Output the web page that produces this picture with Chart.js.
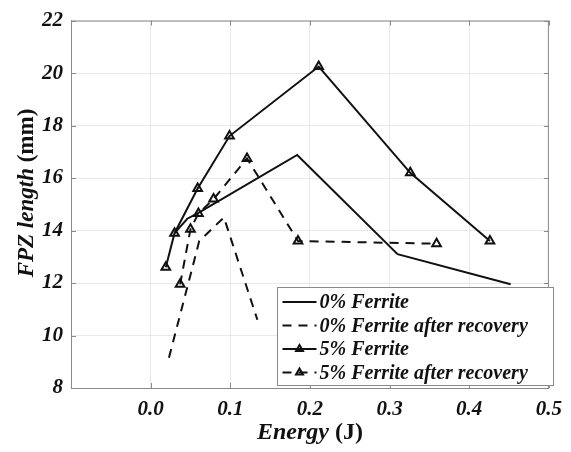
<!DOCTYPE html>
<html>
<head>
<meta charset="utf-8">
<script src="https://cdn.jsdelivr.net/npm/chart.js@4.4.1/dist/chart.umd.min.js"></script>
<style>
  html, body { margin: 0; padding: 0; background: #ffffff; }
</style>
</head>
<body>
<canvas id="fpzChart" width="571" height="452"></canvas>
<script>
// FPZ length vs. impact energy, with and without ferrite
const seriesLabels = [
  "0% Ferrite",
  "0% Ferrite after recovery",
  "5% Ferrite",
  "5% Ferrite after recovery",
];

const ferrite0Energy = [0.030, 0.046, 0.060, 0.184, 0.310, 0.452];
const ferrite0Fpz = [13.9, 14.45, 14.67, 16.88, 13.1, 11.95];

const ferrite0RecEnergy = [0.023, 0.061, 0.092, 0.134];
const ferrite0RecFpz = [9.15, 13.6, 14.5, 10.6];

const ferrite5Energy = [0.019, 0.030, 0.059, 0.099, 0.211, 0.326, 0.426];
const ferrite5Fpz = [12.6, 13.9, 15.6, 17.6, 20.25, 16.2, 13.6];

const ferrite5RecEnergy = [0.037, 0.050, 0.060, 0.079, 0.121, 0.185, 0.359];
const ferrite5RecFpz = [11.95, 14.05, 14.65, 15.2, 16.75, 13.6, 13.5];

const xTicks = [0.0, 0.1, 0.2, 0.3, 0.4, 0.5];
const yTicks = [8, 10, 12, 14, 16, 18, 20, 22];

const serif = "'Liberation Serif', 'Times New Roman', serif";
const inkColor = "#111111";
const axisColor = "#8a8a8a";
const dashPattern = [9, 7];

function toPoints(xs, ys) {
  return xs.map((x, i) => ({ x: x, y: ys[i] }));
}

function lineSet(label, xs, ys, dashed, marker) {
  return {
    label: label,
    data: toPoints(xs, ys),
    borderColor: inkColor,
    backgroundColor: "transparent",
    borderWidth: 2,
    borderDash: dashed ? dashPattern : [],
    pointStyle: "triangle",
    pointRadius: marker ? 5 : 0,
    pointHoverRadius: marker ? 5 : 0,
    pointBorderColor: inkColor,
    pointBackgroundColor: "rgba(255,255,255,0)",
    pointBorderWidth: 2,
    tension: 0,
  };
}

function triangle(ctx, x, y, r) {
  let rad = 0;
  ctx.beginPath();
  for (let k = 0; k < 3; k++) {
    const px = x + Math.sin(rad) * r;
    const py = y - Math.cos(rad) * r;
    if (k === 0) ctx.moveTo(px, py); else ctx.lineTo(px, py);
    rad += (2 * Math.PI) / 3;
  }
  ctx.closePath();
  ctx.stroke();
}

// box, inward ticks, mixed-style axis titles and the legend box
const frameAndLegend = {
  id: "frameAndLegend",
  afterDraw(chart) {
    const { ctx, chartArea: a } = chart;
    const xs = chart.scales.x, ys = chart.scales.y;
    ctx.save();

    // top and right edges of the box
    ctx.strokeStyle = axisColor;
    ctx.lineWidth = 1;
    ctx.setLineDash([]);
    ctx.beginPath();
    ctx.moveTo(a.left, a.top + 0.5);
    ctx.lineTo(a.right, a.top + 0.5);
    ctx.moveTo(a.right - 0.5, a.top);
    ctx.lineTo(a.right - 0.5, a.bottom);
    ctx.stroke();

    // inward tick marks on all four sides
    const tl = 5;
    ctx.beginPath();
    xTicks.forEach((v) => {
      const px = Math.round(xs.getPixelForValue(v)) + 0.5;
      ctx.moveTo(px, a.bottom); ctx.lineTo(px, a.bottom - tl);
      ctx.moveTo(px, a.top); ctx.lineTo(px, a.top + tl);
    });
    yTicks.forEach((v) => {
      const py = Math.round(ys.getPixelForValue(v)) + 0.5;
      ctx.moveTo(a.left, py); ctx.lineTo(a.left + tl, py);
      ctx.moveTo(a.right, py); ctx.lineTo(a.right - tl, py);
    });
    ctx.stroke();

    // axis titles: italic quantity, upright unit
    ctx.fillStyle = inkColor;
    ctx.textBaseline = "middle";
    const drawTitle = (main, unit, size, cx, cy, rot) => {
      ctx.save();
      ctx.translate(cx, cy);
      ctx.rotate(rot);
      const fMain = "italic bold " + size + "px " + serif;
      const fUnit = "bold " + size + "px " + serif;
      ctx.font = fMain;
      const w1 = ctx.measureText(main).width;
      ctx.font = fUnit;
      const w2 = ctx.measureText(unit).width;
      const x = -(w1 + w2) / 2;
      ctx.textAlign = "left";
      ctx.font = fMain;
      ctx.fillText(main, x, 0);
      ctx.font = fUnit;
      ctx.fillText(unit, x + w1, 0);
      ctx.restore();
    };
    drawTitle("Energy", " (J)", 24, (a.left + a.right) / 2, 433, 0);
    drawTitle("FPZ length", " (mm)", 23, 27, 193, -Math.PI / 2);

    // legend box
    const bx = 277.5, by = 287.5, bw = 276, bh = 98;
    ctx.fillStyle = "#ffffff";
    ctx.fillRect(bx, by, bw, bh);
    ctx.strokeStyle = axisColor;
    ctx.lineWidth = 1;
    ctx.strokeRect(bx, by, bw, bh);

    ctx.font = "italic bold 20px " + serif;
    ctx.textAlign = "left";
    ctx.textBaseline = "middle";
    chart.data.datasets.forEach((ds, i) => {
      const cy = by + 14.5 + i * 23.5;
      const x1 = bx + 5, x2 = bx + 39;
      ctx.strokeStyle = ds.borderColor;
      ctx.lineWidth = ds.borderWidth;
      ctx.setLineDash(ds.borderDash);
      ctx.beginPath();
      ctx.moveTo(x1, cy);
      ctx.lineTo(x2, cy);
      ctx.stroke();
      ctx.setLineDash([]);
      if (ds.pointRadius > 0) {
        ctx.lineWidth = ds.pointBorderWidth;
        triangle(ctx, (x1 + x2) / 2, cy, ds.pointRadius - 1);
      }
      ctx.fillStyle = inkColor;
      ctx.fillText(ds.label, bx + 42, cy + 1);
    });

    ctx.restore();
  },
};

const tickFont = { family: serif, size: 21, style: "italic", weight: "bold" };

const ctx = document.getElementById("fpzChart").getContext("2d");
window.fpzChart = new Chart(ctx, {
  type: "line",
  data: {
    datasets: [
      lineSet(seriesLabels[0], ferrite0Energy, ferrite0Fpz, false, false),
      lineSet(seriesLabels[1], ferrite0RecEnergy, ferrite0RecFpz, true, false),
      lineSet(seriesLabels[2], ferrite5Energy, ferrite5Fpz, false, true),
      lineSet(seriesLabels[3], ferrite5RecEnergy, ferrite5RecFpz, true, true),
    ],
  },
  options: {
    responsive: false,
    animation: false,
    events: [],
    layout: { padding: { top: 13, right: 13, left: 0, bottom: 0 } },
    scales: {
      x: {
        type: "linear",
        min: -0.1,
        max: 0.5,
        afterFit(scale) { scale.height = 64; },
        afterBuildTicks(scale) {
          scale.ticks = [-0.1].concat(xTicks).map((v) => ({ value: v }));
        },
        grid: { color: "#e8e8e8", drawTicks: false },
        border: { color: axisColor },
        ticks: {
          padding: 9,
          color: inkColor,
          font: tickFont,
          callback: (v) => (v < -0.05 ? "" : Number(v).toFixed(1)),
        },
      },
      y: {
        min: 8,
        max: 22,
        afterFit(scale) { scale.width = 71; },
        afterBuildTicks(scale) {
          scale.ticks = yTicks.map((v) => ({ value: v }));
        },
        grid: { color: "#e8e8e8", drawTicks: false },
        border: { color: axisColor },
        ticks: {
          padding: 8,
          color: inkColor,
          font: tickFont,
        },
      },
    },
    plugins: {
      legend: { display: false },
      tooltip: { enabled: false },
    },
  },
  plugins: [frameAndLegend],
});
</script>
</body>
</html>
